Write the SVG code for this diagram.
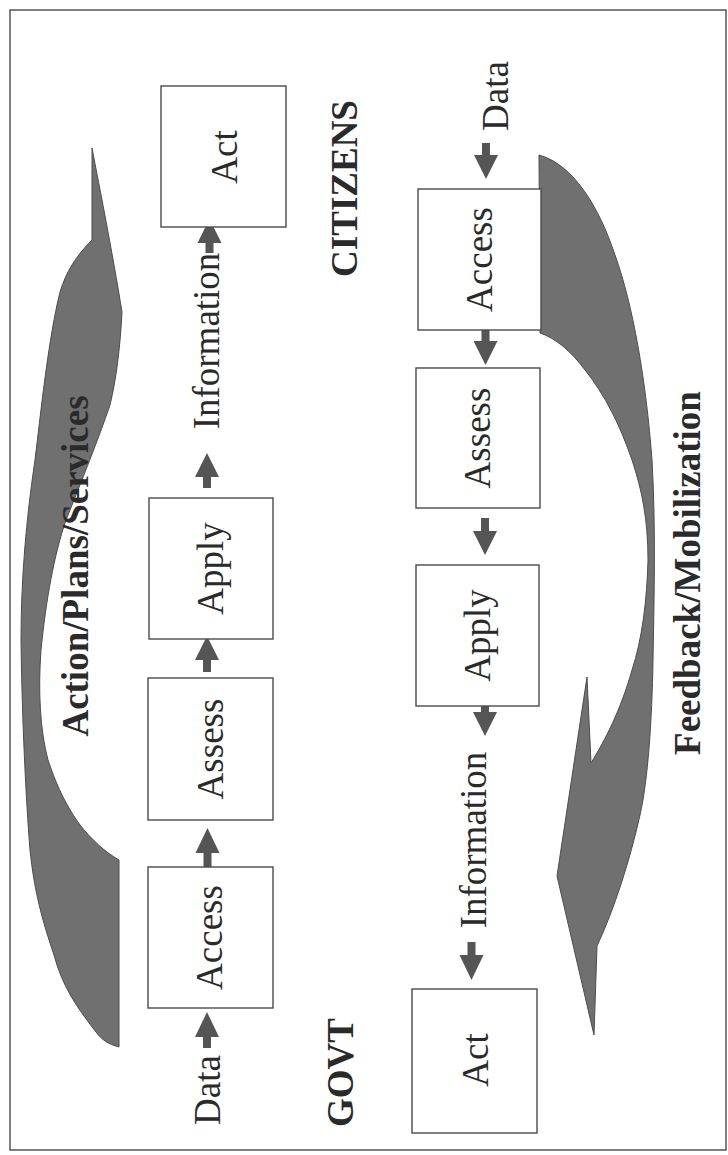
<svg xmlns="http://www.w3.org/2000/svg" width="728" height="1155" viewBox="0 0 728 1155">
<style>
.box{fill:#ffffff;stroke:#4a4a4a;stroke-width:1.4}
.lbl{font-family:"Liberation Serif","Times New Roman",serif;font-size:37px;fill:#2a2a2a;text-anchor:middle}
.bold{font-weight:bold}
.arr{fill:#555555;stroke:none}
.swoosh{fill:#707070;stroke:#4d4d4d;stroke-width:1}
</style>
<rect x="0" y="0" width="728" height="1155" fill="#ffffff"/>
<rect x="10" y="10" width="716" height="1140" fill="none" stroke="#555555" stroke-width="1.5"/>

<g id="swooshes">
  <path id="swoosh-action" class="swoosh" d="M92,148 C100,190 112,250 122,312 C120,350 116,380 110,405 C98,440 82,480 66,520 C54,555 46,600 41,650 C38,690 40,730 48,760 C58,790 68,808 80,825 C92,840 105,852 119,860 L119,1047 C108,1044 102,1040 96,1032 C75,1005 62,985 54,955 C42,920 34,890 30,850 C26,800 22,720 21,640 C21,580 26,520 35,460 C40,420 48,340 60,292 C66,272 76,256 92,240 Z"/>
  <path id="swoosh-feedback" class="swoosh" d="M539,155 C575,165 600,210 615,255 C633,305 646,380 652,460 C656,530 654,600 653,660 C652,720 648,780 640,815 C630,860 614,910 597,946 L594,1035 L557,876 L587,677 L591,763 C605,740 620,712 632,670 C642,640 647,600 648,560 C648,520 642,490 632,460 C620,425 605,395 585,370 C570,350 555,338 540,333 Z"/>
</g>

<g id="connectors">
  <path class="arr" d="M207,1012 L219,1037 L211,1037 L211,1048 L203,1048 L203,1037 L195,1037 Z"/>
  <path class="arr" d="M207.5,828 L219.5,853 L211.5,853 L211.5,867 L203.5,867 L203.5,853 L195.5,853 Z"/>
  <path class="arr" d="M207,636 L219,660 L211,660 L211,672 L203,672 L203,660 L195,660 Z"/>
  <path class="arr" d="M207,453 L219,477 L211,477 L211,488 L203,488 L203,477 L195,477 Z"/>
  <path class="arr" d="M209.5,219 L221.5,243 L213.5,243 L213.5,253 L205.5,253 L205.5,243 L197.5,243 Z"/>
  <path class="arr" d="M486,179 L498,155 L490,155 L490,143 L482,143 L482,155 L474,155 Z"/>
  <path class="arr" d="M485.5,365 L497.5,341 L489.5,341 L489.5,330 L481.5,330 L481.5,341 L473.5,341 Z"/>
  <path class="arr" d="M485,555 L497,531 L489,531 L489,518 L481,518 L481,531 L473,531 Z"/>
  <path class="arr" d="M485,736 L497,712 L489,712 L489,706 L481,706 L481,712 L473,712 Z"/>
  <path class="arr" d="M471.5,980 L483.5,955 L475.5,955 L475.5,942 L467.5,942 L467.5,955 L459.5,955 Z"/>
</g>

<g id="node-govt-act">
  <rect class="box" x="161" y="86" width="125" height="141"/>
  <text class="lbl" transform="translate(237,157) rotate(-90)">Act</text>
</g>
<g id="node-govt-apply">
  <rect class="box" x="149" y="498" width="124" height="141"/>
  <text class="lbl" transform="translate(223,568.5) rotate(-90)">Apply</text>
</g>
<g id="node-govt-assess">
  <rect class="box" x="148" y="678" width="125" height="142"/>
  <text class="lbl" transform="translate(223,749) rotate(-90)">Assess</text>
</g>
<g id="node-govt-access">
  <rect class="box" x="148" y="867" width="125" height="141"/>
  <text class="lbl" transform="translate(222,937.5) rotate(-90)">Access</text>
</g>

<g id="node-cit-access">
  <rect class="box" x="418" y="189" width="123" height="141"/>
  <text class="lbl" transform="translate(492,259.5) rotate(-90)">Access</text>
</g>
<g id="node-cit-assess">
  <rect class="box" x="416" y="368" width="124" height="140"/>
  <text class="lbl" transform="translate(490,438) rotate(-90)">Assess</text>
</g>
<g id="node-cit-apply">
  <rect class="box" x="416" y="565" width="123" height="141"/>
  <text class="lbl" transform="translate(490,635.5) rotate(-90)">Apply</text>
</g>
<g id="node-cit-act">
  <rect class="box" x="412" y="989" width="125" height="144"/>
  <text class="lbl" transform="translate(488,1060) rotate(-90)">Act</text>
</g>

<g id="labels">
  <text class="lbl" transform="translate(219,341) rotate(-90)">Information</text>
  <text class="lbl" transform="translate(220,1090) rotate(-90)">Data</text>
  <text class="lbl" transform="translate(508,96) rotate(-90)">Data</text>
  <text class="lbl" transform="translate(486,840) rotate(-90)">Information</text>
  <text class="lbl bold" transform="translate(357,188.5) rotate(-90)">CITIZENS</text>
  <text class="lbl bold" transform="translate(353,1072.5) rotate(-90)">GOVT</text>
  <text class="lbl bold" transform="translate(88,566) rotate(-90)">Action/Plans/Services</text>
  <text class="lbl bold" transform="translate(700,573) rotate(-90)">Feedback/Mobilization</text>
</g>
</svg>
